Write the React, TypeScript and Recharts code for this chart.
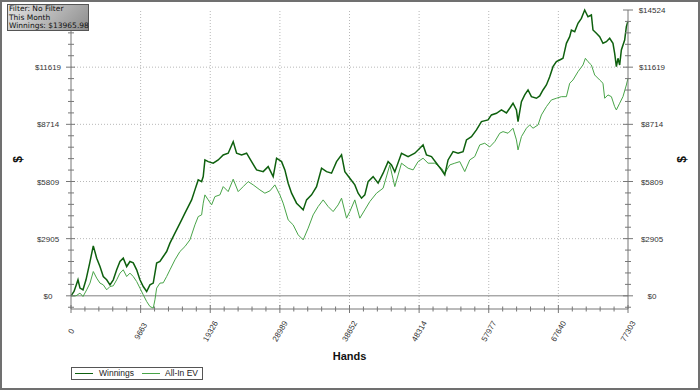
import React from 'react';
import { LineChart, Line, XAxis, YAxis, ReferenceLine, Legend } from 'recharts';

// ---- Tick labels ----
const xMajor = [0, 9663, 19326, 28989, 38652, 48314, 57977, 67640, 77303];
const yMajor = [0, 2905, 5809, 8714, 11619, 14524];
const yDomainMin = -670;

// ---- Series: Winnings ----
const winHands = [
  0, 416, 694, 971, 1248, 1664, 2081, 2594, 3093, 3565,
  4022, 4480, 4952, 5409, 5867, 6339, 6796, 7254, 7726, 8183,
  8641, 9113, 9570, 10028, 10500, 10957, 11415, 11887, 12344, 12802,
  13274, 13731, 14425, 14883, 15354, 15812, 16270, 16741, 17199, 17656,
  18128, 18350, 18586, 19043, 19737, 20430, 21124, 21817, 22511, 22982,
  23676, 24369, 25063, 25756, 26672, 27365, 28059, 28531, 29224, 29682,
  30140, 30611, 31305, 31762, 32220, 32692, 33385, 34079, 34772, 35466,
  36159, 36853, 37546, 38004, 38697, 39391, 39849, 40320, 40778, 41236,
  41929, 42623, 43316, 44010, 44481, 44939, 45868, 46784, 47713, 48406,
  48864, 49336, 50029, 50723, 51416, 51874, 52332, 53025, 53719, 54412,
  54884, 55577, 56271, 56964, 57880, 58351, 59045, 59738, 60432, 60889,
  61347, 61819, 62041, 62512, 62970, 63428, 63899, 64593, 65050, 65508,
  65980, 66437, 66895, 67367, 67824, 68282, 68754, 69211, 69447, 69905,
  70363, 70834, 71292, 71750, 72221, 72443, 72915, 73372, 73830, 74302,
  74759, 75217, 75453, 75689, 75911, 76146, 76382, 76840, 77076, 77303,
];
const winVals = [
  0, 218, 508, 812, 391, 305, 812, 1661, 2539, 1914,
  1488, 980, 812, 559, 812, 1320, 1742, 1914, 1488, 1742,
  1676, 1320, 812, 472, 218, 559, 645, 1661, 1742, 1996,
  2250, 2676, 3184, 3519, 3859, 4200, 4535, 4875, 5383, 5890,
  5804, 6058, 6906, 6820, 6739, 6906, 7160, 7246, 7835, 7246,
  7160, 7246, 6820, 6398, 6312, 6566, 6058, 6992, 6820, 6398,
  5723, 5215, 4707, 4535, 4367, 4875, 5129, 5550, 6485, 6312,
  6231, 6820, 7160, 6312, 5977, 5637, 5215, 4961, 5129, 5804,
  6058, 5723, 6231, 6820, 6652, 6297, 7246, 7074, 7246, 7500,
  7668, 7160, 7074, 6739, 6398, 6144, 6906, 7328, 7246, 7328,
  7922, 8089, 8429, 8851, 8937, 9191, 9277, 9445, 9293, 9531,
  9785, 9445, 8851, 9867, 10207, 10461, 10120, 10039, 10156, 10461,
  10715, 11136, 11644, 11898, 11984, 12070, 12832, 13167, 13507, 13421,
  13848, 14102, 14523, 14183, 14269, 13507, 13340, 13167, 12832, 12914,
  13086, 12832, 12324, 11644, 12070, 11730, 12492, 12999, 13675, 13966,
];

// ---- Series: All-In EV ----
const evHands = [
  0, 694, 1248, 1664, 2178, 2635, 3093, 3565, 4022, 4480,
  4952, 5409, 5867, 6339, 6796, 7254, 7726, 8183, 8641, 9113,
  9570, 10028, 10500, 10957, 11415, 11651, 11887, 12344, 12802, 13274,
  13731, 14425, 15118, 15812, 16505, 17199, 17656, 18128, 18350, 18586,
  19043, 19515, 19973, 20666, 21124, 21817, 22511, 23204, 23898, 24592,
  25285, 26214, 26908, 27601, 28295, 28988, 29446, 30140, 30833, 31527,
  32220, 32914, 33607, 34301, 34994, 35688, 36381, 37075, 37546, 38240,
  38697, 39391, 40084, 40778, 41471, 42400, 43316, 44245, 44939, 45868,
  46784, 47477, 48171, 48864, 49558, 50487, 51416, 51874, 52567, 53261,
  53954, 54648, 55341, 56035, 56728, 57422, 58115, 58809, 59502, 59960,
  60654, 61347, 61819, 62041, 62512, 63206, 63663, 64121, 64815, 65286,
  65980, 66673, 67367, 68060, 68754, 69211, 69669, 70363, 71056, 71389,
  71750, 72221, 72679, 73372, 73830, 74066, 74524, 74996, 75453, 75689,
  76146, 76604, 77076, 77303,
];
const evVals = [
  0, 0, 137, -36, 305, 645, 1234, 899, 645, 559,
  305, 472, 508, 812, 1153, 1320, 980, 1153, 980, 726,
  391, 51, -289, -543, -625, -203, 391, 645, 660, 980,
  1320, 1828, 2250, 2503, 2844, 3605, 4027, 4113, 4707, 5129,
  4875, 4621, 5042, 5129, 5550, 5296, 5926, 5296, 5550, 5804,
  5637, 5383, 5215, 5332, 5637, 5129, 4707, 3859, 3605, 3098,
  2844, 3438, 4113, 4535, 4875, 4535, 4281, 4621, 4961, 3946,
  4281, 4875, 3946, 4367, 4789, 5215, 5469, 6652, 5550, 6739,
  6485, 6398, 6820, 6992, 6739, 6739, 6485, 6231, 6652, 6739,
  6820, 6312, 6906, 7074, 7668, 7754, 7566, 7835, 8262, 8343,
  8262, 8516, 7922, 7414, 8089, 8516, 8683, 8516, 8683, 9191,
  9613, 9953, 10039, 10120, 10120, 10801, 10968, 11390, 11730, 12070,
  11898, 11730, 11222, 10968, 10801, 10039, 10207, 10120, 9613, 9445,
  9785, 10120, 10715, 11055,
];

const seriesNames = ['Winnings', 'All-In EV'];
const infoLines = ['Filter: No Filter', 'This Month', 'Winnings: $13965.98'];

const winData = winHands.map((h, i) => ({ h, v: winVals[i] }));
const evData = evHands.map((h, i) => ({ h, v: evVals[i] }));

const DARK = '#0e600e';
const LIGHT = '#48a448';
const AXIS = '#777777';
const FONT = '"Liberation Sans", Arial, sans-serif';

function withMinor(major: number[]) {
  const out: number[] = [];
  for (let i = 0; i < major.length; i++) {
    out.push(major[i]);
    if (i < major.length - 1) {
      const step = (major[i + 1] - major[i]) / 5;
      for (let k = 1; k < 5; k++) out.push(major[i] + step * k);
    }
  }
  return out;
}
const xTicks = withMinor(xMajor);
const yTicks = [yMajor[0] - (yMajor[1] - yMajor[0]) / 5, ...withMinor(yMajor)];
const yDomain = [yDomainMin, yMajor[yMajor.length - 1]];
const xDomain = [xMajor[0], xMajor[xMajor.length - 1]];

const findMajor = (list: number[], v: any) => {
  const n = Number(v);
  for (const m of list) if (Math.abs(m - n) < 0.5) return m;
  return null;
};

const BottomTick = (p: any) => {
  const { x, y, payload } = p;
  const major = findMajor(xMajor, payload && payload.value);
  if (major === null) return <line x1={x} x2={x} y1={y - 2.5} y2={y + 2.5} stroke={AXIS} />;
  const tx = x + 2.5;
  const ty = y + 23.5;
  return (
    <g>
      <line x1={x} x2={x} y1={y - 4} y2={y + 4} stroke={AXIS} />
      <text x={tx} y={ty} textAnchor="middle" fontSize={8} fontFamily={FONT} fill="#333"
        transform={`rotate(-60, ${tx}, ${ty})`}>{String(major)}</text>
    </g>
  );
};

const TopTick = (p: any) => {
  const { x, y, payload } = p;
  const major = findMajor(xMajor, payload && payload.value) !== null;
  return <line x1={x} x2={x} y1={major ? y - 1 : y} y2={major ? y + 5 : y + 3.5} stroke={AXIS} />;
};

const makeYTick = (side: 'l' | 'r') => (p: any) => {
  const { x, y, payload } = p;
  const major = findMajor(yMajor, payload && payload.value);
  if (major === null) return <line x1={x - 3} x2={x + 3} y1={y} y2={y} stroke={AXIS} />;
  // the top-left label sits beneath the info box in the original, so it is not drawn there
  const showLabel = !(side === 'l' && major === yMajor[yMajor.length - 1]);
  const lx = side === 'l' ? x - 23 : x + 24;
  return (
    <g>
      <line x1={x - 5} x2={side === 'l' ? x + 4 : x + 5} y1={y} y2={y} stroke={AXIS} />
      {showLabel && (
        <text x={lx} y={y + 3} textAnchor="middle" fontSize={8} fontFamily={FONT} fill="#333">{'$' + major}</text>
      )}
    </g>
  );
};
const LeftTick = makeYTick('l');
const RightTick = makeYTick('r');

const HandsLabel = (p: any) => {
  const vb = p.viewBox || { x: 71, y: 309, width: 557, height: 81 };
  return (
    <text x={vb.x + vb.width / 2} y={vb.y + 51} textAnchor="middle" fontSize={11} fontWeight="bold" fontFamily={FONT} fill="#111">Hands</text>
  );
};

const DollarLabel = (side: 'l' | 'r') => (p: any) => {
  const vb = p.viewBox || { x: side === 'l' ? 0 : 628, y: 10, width: 71, height: 299 };
  const tx = side === 'l' ? vb.x + 22 : vb.x + 58;
  const ty = vb.y + vb.height / 2;
  return (
    <text x={tx} y={ty} textAnchor="middle" fontSize={12} fontWeight="bold" fontFamily={FONT} fill="#111"
      transform={`rotate(-90, ${tx}, ${ty})`}>$</text>
  );
};

const LegendBox = () => (
  <div style={{
    boxSizing: 'border-box', width: 132, height: 13, border: '1px solid #555', background: '#fff',
    display: 'flex', alignItems: 'center', fontFamily: FONT, fontSize: 8.5, color: '#222', lineHeight: '11px',
  }}>
    <span style={{ display: 'inline-block', width: 18, height: 0, borderTop: `1.5px solid ${DARK}`, marginLeft: 3 }} />
    <span style={{ marginLeft: 6 }}>{seriesNames[0]}</span>
    <span style={{ display: 'inline-block', width: 18, height: 0, borderTop: `1px solid ${LIGHT}`, marginLeft: 8 }} />
    <span style={{ marginLeft: 5 }}>{seriesNames[1]}</span>
  </div>
);

export default function App() {
  return (
    <div style={{ position: 'absolute', left: 0, top: 0, width: 700, height: 390, background: '#fff' }}>
      <LineChart width={700} height={390} margin={{ top: 10, right: 0, bottom: 0, left: 0 }}>
        <XAxis xAxisId="top" orientation="top" type="number" dataKey="h" domain={xDomain}
          ticks={xTicks} interval={0} height={0} tickSize={0} tickMargin={0} tickLine={false}
          axisLine={{ stroke: AXIS }} tick={TopTick} />
        <XAxis type="number" dataKey="h" domain={xDomain}
          ticks={xTicks} interval={0} height={81} tickSize={0} tickMargin={0} tickLine={false}
          axisLine={{ stroke: AXIS }} tick={BottomTick} label={<HandsLabel />} />
        <YAxis yAxisId="l" orientation="left" type="number" domain={yDomain}
          ticks={yTicks} interval={0} width={71} tickSize={0} tickMargin={0} tickLine={false}
          axisLine={{ stroke: AXIS }} tick={LeftTick} label={DollarLabel('l')} />
        <YAxis yAxisId="r" orientation="right" type="number" domain={yDomain}
          ticks={yTicks} interval={0} width={72} tickSize={0} tickMargin={0} tickLine={false}
          axisLine={{ stroke: AXIS }} tick={RightTick} label={DollarLabel('r')} />
        {xMajor.slice(1, -1).map((v) => (
          <ReferenceLine key={'gx' + v} x={v} yAxisId="l" stroke="#b8b8b8" strokeDasharray="1 2" />
        ))}
        {yMajor.slice(1, -1).map((v) => (
          <ReferenceLine key={'gy' + v} y={v} yAxisId="l" stroke="#b8b8b8" strokeDasharray="1 2" />
        ))}
        <ReferenceLine y={0} yAxisId="l" stroke="#808080" />
        <Line yAxisId="r" data={evData} dataKey="v" name={seriesNames[1]} stroke={LIGHT} strokeWidth={1}
          dot={false} isAnimationActive={false} />
        <Line yAxisId="l" data={winData} dataKey="v" name={seriesNames[0]} stroke={DARK} strokeWidth={1.5}
          dot={false} isAnimationActive={false} />
        <Legend verticalAlign="middle" layout="horizontal" align="center"
          wrapperStyle={{ left: 71, top: 367, width: 132, height: 13, margin: 0 }} content={<LegendBox />} />
      </LineChart>
      <div style={{
        position: 'absolute', left: 7, top: 4, width: 82, height: 27, boxSizing: 'border-box',
        border: '1px solid #555', background: 'linear-gradient(135deg, #e4e4e4 0%, #b4b4b4 55%, #8c8c8c 100%)',
        fontFamily: '"DejaVu Sans", Verdana, sans-serif', fontSize: 7.5, lineHeight: '8.7px', color: '#111',
        padding: '0 0 0 1px', whiteSpace: 'nowrap',
      }}>
        {infoLines.map((t) => <div key={t}>{t}</div>)}
      </div>
      <div style={{
        position: 'absolute', left: 0, top: 0, width: 700, height: 390, boxSizing: 'border-box',
        border: '2px solid #707070', pointerEvents: 'none',
      }} />
    </div>
  );
}
